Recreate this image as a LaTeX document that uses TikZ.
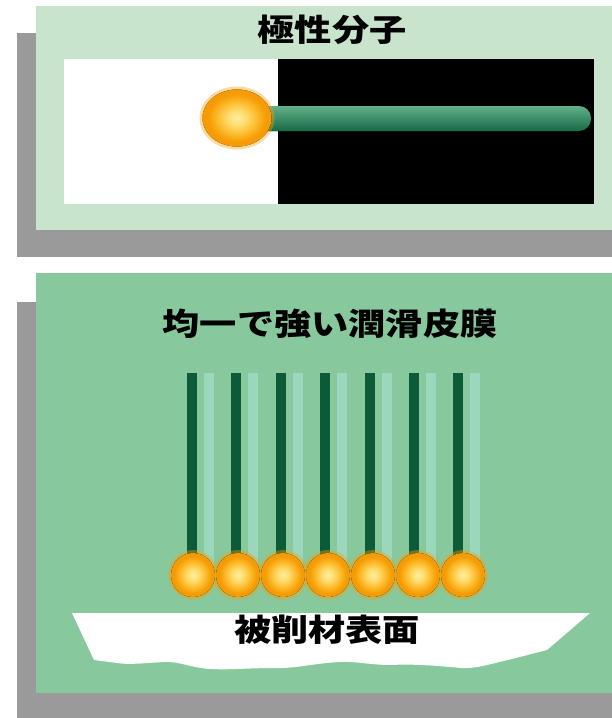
\documentclass[tikz,border=0pt]{standalone}
\usepackage{fontspec}
\usepackage{graphicx}
\newfontfamily\jp{Noto Sans CJK JP}
\definecolor{panelpale}{HTML}{C9E4CD}
\definecolor{panelgreen}{HTML}{87C99C}
\definecolor{shadowgray}{HTML}{9A9A9A}
\definecolor{roddark}{HTML}{0D5A38}
\definecolor{rodlight}{HTML}{A2DCC8}
\definecolor{glow}{HTML}{F5A010}
\definecolor{tailtop}{HTML}{62B08A}
\definecolor{tailmid}{HTML}{4A9C76}
\definecolor{tailbot}{HTML}{166B44}
\pgfdeclareradialshading{headball}{\pgfpoint{0bp}{0bp}}{%
  rgb(0bp)=(1,0.93,0.64);
  rgb(7bp)=(1,0.86,0.42);
  rgb(15bp)=(0.99,0.72,0.15);
  rgb(21bp)=(0.96,0.61,0.02);
  rgb(50bp)=(0.95,0.58,0.0)}
\tikzset{
  label/.style={font=\jp\bfseries\fontsize{31}{31}\selectfont, inner sep=0pt},
  head/.style={shading=headball},
  halo/.style={fill=glow, opacity=0.4},
}
\newcommand{\wide}[1]{\scalebox{1.2}[1]{#1}}
\begin{document}
\begin{tikzpicture}[x=1pt, y=-1pt]
\useasboundingbox (0,0) rectangle (612,718);
\fill[white] (0,0) rectangle (612,718);

% upper panel: a single polar molecule
\fill[shadowgray] (17,33) rectangle (612,257);
\fill[panelpale] (36,6) rectangle (612,230);
\fill[white] (64,59) rectangle (278,204);
\fill[black] (278,59) rectangle (594,204);
\node[label] (polar) at (332,30) {\wide{極性分子}};
\fill[top color=tailtop, middle color=tailmid, bottom color=tailbot, rounded corners=12]
  (250,106) rectangle (591,131);
\fill[halo] (237,118) ellipse [x radius=37.5, y radius=31.5];
\fill[head] (237,118) ellipse [x radius=34.5, y radius=28.5];

% lower panel: aligned molecules on the workpiece
\fill[shadowgray] (17,302) rectangle (612,718);
\fill[panelgreen] (36,273) rectangle (612,693);
\node[label] (film) at (330,324) {\wide{均一で強い潤滑皮膜}};

\foreach \i in {0,...,6} {
  \pgfmathsetmacro{\rx}{192+44.4*\i}
  \pgfmathsetmacro{\bx}{193+45*\i}
  \fill[rodlight, opacity=0.75] (\rx+12,373) rectangle (\rx+22,566);
  \fill[roddark] (\rx-5,373) rectangle (\rx+5,562);
  \fill[halo] (\bx,575) circle (25);
}
\foreach \i in {0,...,6} {
  \pgfmathsetmacro{\bx}{193+45*\i}
  \fill[head] (\bx,575) circle (22);
}

\fill[white] (72,613) -- (590,613) -- (547,650) -- (508,660)
  .. controls (490,664) and (475,669) .. (461,668)
  .. controls (430,665) and (410,664) .. (391,665)
  .. controls (370,665) and (355,661) .. (340,662)
  .. controls (315,663) and (295,669) .. (273,668)
  .. controls (250,668) and (230,670) .. (211,669)
  .. controls (190,668) and (180,661) .. (164,662)
  .. controls (145,663) and (130,665) .. (117,663)
  -- (94,660) -- cycle;
\node[label] (surface) at (327,630) {\wide{被削材表面}};
\end{tikzpicture}
\end{document}
